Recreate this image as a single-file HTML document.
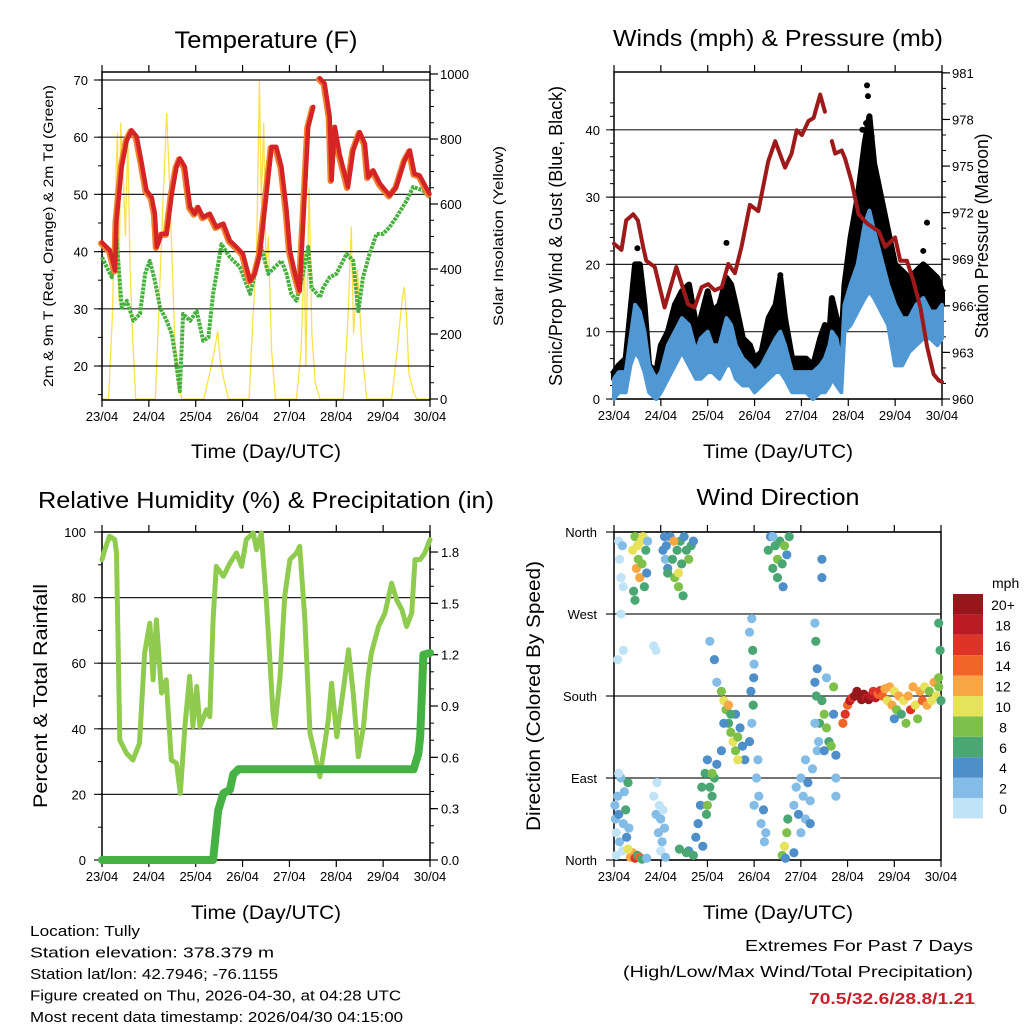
<!DOCTYPE html>
<html><head><meta charset="utf-8"><style>
html,body{margin:0;padding:0;background:#fff;}
svg{display:block;font-family:"Liberation Sans",sans-serif;}
</style></head><body>
<svg id="c" width="1024" height="1024" viewBox="0 0 1024 1024"></svg>
<script>
// ---------- DATA ----------
const dayLabels=["23/04","24/04","25/04","26/04","27/04","28/04","29/04","30/04"];
const tempTicks=[20,30,40,50,60,70];
const solarTicks=[0,200,400,600,800,1000];
const windTicks=[0,10,20,30,40];
const presTicks=[960,963,966,969,972,975,978,981];
const rhTicks=[0,20,40,60,80,100];
const rainTicks=[0.0,0.3,0.6,0.9,1.2,1.5,1.8];
const dirTicks=[0,90,180,270,360];
const dirTickLabels=["North","East","South","West","North"];
const speedBins=["0","2","4","6","8","10","12","14","16","18","20+"];

const tempDays=[0,0.17,0.28,0.31,0.42,0.53,0.63,0.74,0.85,0.95,1.06,1.13,1.17,1.27,1.38,1.49,1.59,1.66,1.77,1.88,1.98,2.05,2.16,2.30,2.44,2.59,2.73,2.87,3.01,3.16,3.26,3.37,3.51,3.62,3.72,3.83,3.94,4.01,4.12,4.22,4.29,4.40,4.51,4.58,4.65,4.75,4.86,4.90,4.97,5.07,5.25,5.36,5.50,5.61,5.68,5.79,5.93,6.14,6.28,6.46,6.57,6.67,6.78,6.99];
const tempRed=[41.6,40.2,36.7,45.4,54.8,59.5,61.2,60.1,55.4,50.7,49.5,46.6,40.8,43.1,43.1,50.1,54.8,56.3,54.8,47.8,46.6,47.8,46.0,46.6,44.3,44.9,41.9,40.8,39.6,34.9,36.1,39.6,50.1,58.3,58.3,54.8,47.2,40.2,36.1,33.2,44.3,61.8,65.3,null,70.3,69.4,63.6,52.5,61.8,57.1,51.3,57.7,60.9,58.9,53.0,54.2,51.9,49.8,51.3,56.0,57.7,53.6,53.3,50.1];
const dewDays=[0,0.10,0.21,0.31,0.42,0.53,0.67,0.81,0.92,1.02,1.13,1.24,1.38,1.49,1.56,1.66,1.73,1.88,2.02,2.16,2.27,2.37,2.55,2.73,2.94,3.16,3.30,3.40,3.55,3.69,3.83,3.94,4.04,4.15,4.29,4.40,4.47,4.65,4.72,4.86,5.00,5.22,5.36,5.47,5.57,5.71,5.86,6.00,6.14,6.28,6.50,6.64,6.85,6.99];
const dewGreen=[39.0,37.3,35.5,42.5,30.2,31.4,27.9,29.1,36.1,38.4,34.9,30.2,27.9,25.6,22.0,15.6,29.1,27.9,29.6,24.4,25.0,32.6,41.3,39.0,37.3,32.6,37.3,40.8,36.1,37.3,38.4,36.1,32.6,31.4,36.1,40.8,33.7,32.0,33.7,35.5,36.1,39.6,38.4,29.6,35.5,39.6,43.1,43.1,44.3,46.0,48.9,51.3,50.7,49.5];
const solarDays=[0,0.14,0.22,0.28,0.33,0.36,0.40,0.45,0.50,0.55,0.60,0.65,0.72,1.14,1.22,1.30,1.38,1.43,1.48,1.55,1.62,1.70,2.17,2.30,2.40,2.47,2.52,2.60,2.70,3.14,3.22,3.30,3.36,3.40,3.45,3.50,3.55,3.62,3.70,4.15,4.25,4.32,4.35,4.42,4.48,4.55,4.65,5.15,5.25,5.32,5.37,5.45,5.55,5.65,6.18,6.30,6.40,6.45,6.50,6.55,6.65,6.72,7];
const solarW=[0,0,250,600,820,300,850,700,500,800,400,200,0,0,300,600,880,700,500,200,60,0,0,80,150,210,120,60,0,0,250,450,980,600,850,400,500,150,0,0,150,450,100,650,200,50,0,0,250,530,200,400,150,0,0,150,300,345,250,80,20,0,0];

const presDays=[0,0.16,0.26,0.41,0.51,0.62,0.69,0.87,1.08,1.33,1.58,1.72,1.87,2.01,2.15,2.30,2.44,2.58,2.72,2.90,3.08,3.29,3.44,3.65,3.79,3.90,4.01,4.15,4.26,4.40,4.50,4.58,4.65,4.72,4.86,4.93,5.07,5.22,5.40,5.65,5.79,6.00,6.11,6.25,6.39,6.54,6.68,6.82,6.93,7.0];
const presMb=[970.0,969.6,971.5,971.9,971.5,969.8,968.9,968.5,965.9,968.5,966.1,965.9,967.2,967.4,967.0,967.2,968.7,968.1,969.8,972.5,972.1,975.3,976.6,974.9,975.8,977.3,977.0,977.9,978.1,979.6,978.5,null,976.6,975.8,976.0,975.5,974.0,971.9,971.3,970.8,969.8,970.4,968.9,968.9,967.6,965.9,963.4,961.6,961.2,961.1];
const windDays=[0,0.1,0.25,0.35,0.45,0.55,0.65,0.75,0.9,1.0,1.15,1.3,1.45,1.6,1.75,1.85,2.0,2.1,2.25,2.4,2.5,2.6,2.75,2.9,3.0,3.15,3.3,3.45,3.55,3.65,3.8,3.95,4.1,4.25,4.4,4.5,4.6,4.65,4.75,4.85,4.92,5.05,5.2,5.35,5.45,5.55,5.7,5.85,6.0,6.15,6.3,6.45,6.6,6.75,6.9,7.0];
const windLow=[0,1,1,5,7,6,4,1,0,1,3,5,7,5,3,3,4,4,3,5,5,3,2,2,1,2,3,4,4,3,1,1,1,0,1,1,2,3,2,1,10,11,13,15,16,15,13,11,5,5,7,8,9,9,8,9];
const windHigh=[3,4,4,9,14,13,10,5,3,4,8,10,12,11,7,9,10,8,8,12,11,8,6,5,4,5,7,9,10,8,4,4,4,4,5,6,8,10,9,5,14,17,20,26,28,25,21,17,14,12,12,14,15,13,13,14];
const gustHigh=[4,5,6,13,20,20,14,5,4,8,10,14,16,17,11,12,16,13,14,18,17,14,9,8,6,7,12,14,18,12,6,6,6,5,9,11,10,15,12,8,17,24,30,38,42,35,30,25,20,19,18,19,20,19,18,16];
const gustDotDays=[5.4,5.42,5.38,6.68,6.6,2.4,0.5,3.55,5.3,5.5];
const gustDotVals=[46.6,45.0,41.0,26.2,22.0,23.2,22.4,18.4,40.0,39.0];

const rhDays=[0,0.06,0.16,0.27,0.31,0.38,0.52,0.66,0.80,0.91,1.02,1.09,1.16,1.27,1.37,1.48,1.59,1.67,1.77,1.87,1.94,2.02,2.09,2.23,2.30,2.37,2.44,2.59,2.73,2.87,2.98,3.08,3.23,3.30,3.40,3.51,3.65,3.69,3.80,3.90,4.01,4.15,4.22,4.33,4.44,4.54,4.65,4.83,4.90,5.01,5.15,5.26,5.36,5.47,5.58,5.68,5.75,5.90,6.04,6.18,6.29,6.40,6.50,6.61,6.68,6.79,6.89,7.0];
const rhVals=[91.6,94.6,98.7,97.7,93.6,36.6,32.6,30.5,35.6,63.1,72.2,54.9,73.2,50.9,54.9,30.5,29.5,20.3,40.7,56.0,40.7,52.9,40.7,45.8,43.7,73.2,89.5,86.5,90.5,93.6,89.5,97.7,99.7,94.6,99.7,78.3,44.8,40.7,56.0,80.4,91.6,93.6,95.6,73.2,38.7,32.6,25.4,42.7,53.9,37.6,51.9,64.1,50.9,31.5,40.7,56.0,63.1,71.2,75.3,84.4,79.3,76.3,71.2,75.3,91.6,91.6,93.6,97.7];
const rainDays=[0,2.37,2.48,2.59,2.73,2.80,2.91,6.65,6.75,6.79,6.86,7.0];
const rainVals=[0,0,0.29,0.39,0.41,0.50,0.53,0.53,0.62,0.72,1.20,1.21];

const dirDay=[0.02,0.03,0.05,0.08,0.1,0.12,0.15,0.18,0.2,0.22,0.25,0.27,0.3,0.32,0.05,0.1,
0.4,0.45,0.48,0.5,0.52,0.55,0.58,0.6,0.62,0.65,0.68,0.7,0.72,0.42,0.45,
0.1,0.12,0.15,0.18,0.2,0.15,0.2,0.08,0.85,0.9,
0.35,0.4,0.45,0.5,0.55,0.6,0.7,0.3,
0.85,0.9,0.95,0.97,1.0,1.03,0.92,1.05,1.08,1.0,1.1,
1.05,1.08,1.1,1.12,1.15,1.2,1.25,1.3,1.35,1.38,1.42,1.45,1.5,1.55,1.6,1.65,1.7,1.48,1.38,1.28,1.15,
1.6,1.7,1.75,1.8,1.85,1.9,1.88,1.95,2.0,2.05,2.1,2.15,2.2,1.98,2.0,1.55,1.4,2.1,
2.3,2.35,2.4,2.45,2.5,2.55,2.6,2.65,2.7,2.75,2.8,2.6,2.5,2.35,2.9,2.95,2.3,2.65,2.45,
2.95,2.97,2.99,3.0,2.93,2.98,2.9,2.2,2.15,2.05,
3.05,3.1,3.15,3.2,3.22,3.25,3.08,3.0,
3.3,3.35,3.4,3.45,3.5,3.55,3.6,3.65,3.7,3.75,3.5,3.62,3.4,
3.6,3.65,3.7,3.72,3.67,3.85,
3.85,3.9,3.95,4.0,4.05,4.1,4.15,4.2,4.25,4.0,4.1,4.2,
4.3,4.32,4.35,4.3,4.33,4.4,4.38,4.3,4.35,4.45,4.45,
4.45,4.5,4.55,4.6,4.65,4.7,4.75,4.75,4.75,4.7,4.55,4.5,
4.95,5.0,5.05,5.1,5.15,5.2,5.25,5.3,5.35,5.4,5.45,5.5,5.55,5.6,5.65,5.7,5.75,4.9,
5.8,5.85,5.9,5.95,6.0,6.05,6.1,6.15,6.2,6.25,6.3,6.35,6.4,6.45,6.5,6.55,6.6,6.65,6.7,6.75,6.8,6.85,6.9,6.95,7.0,6.0,6.95,6.98,6.95];
const dirDeg=[60,45,30,70,50,20,90,10,40,75,55,25,85,35,5,95,
340,355,320,345,330,310,350,325,355,300,340,315,350,295,285,
350,330,310,345,300,270,230,220,235,230,
3,8,2,5,3,1,2,12,
70,50,30,60,45,20,85,55,35,10,3,
340,355,330,345,320,355,330,310,340,300,350,325,355,340,330,345,350,290,315,350,315,
10,5,25,40,60,15,80,95,110,80,70,90,105,50,60,8,12,95,
185,175,165,150,140,130,120,135,145,125,110,160,160,150,130,150,120,110,170,
265,230,200,215,185,170,250,195,220,240,
90,70,40,55,20,30,110,60,
340,355,320,345,330,350,325,345,335,355,310,300,355,
5,15,30,45,2,8,
60,80,50,90,70,45,85,65,100,30,110,40,
260,240,210,195,180,150,130,150,120,330,310,
175,160,145,130,125,160,115,90,70,190,200,120,
160,170,175,178,180,185,180,176,182,178,176,180,185,178,182,186,180,150,
188,175,190,170,185,165,180,160,175,150,180,165,190,170,155,185,175,190,170,185,175,195,180,190,175,155,260,230,200];
const dirSpd=[2,3,1,2,4,2,3,1,2,3,6,4,6,2,1,1,
10,9,12,10,9,12,10,8,11,6,7,4,3,7,6,
1,1,0,2,0,0,0,1,0,1,
13,12,16,6,14,7,2,10,
1,2,2,1,2,2,1,1,2,1,2,
4,4,3,4,5,4,7,8,6,8,6,7,4,6,8,7,4,7,10,12,6,
4,6,4,4,4,4,6,6,4,6,6,6,4,6,8,6,6,8,
9,10,8,7,8,10,9,8,4,4,4,4,6,4,4,3,4,10,12,
2,6,4,3,4,6,2,2,4,2,
2,2,2,4,2,3,3,2,
6,5,6,7,8,6,6,9,4,6,6,4,2,
8,10,8,6,4,4,
2,2,4,2,3,2,4,2,2,2,3,4,
2,6,4,4,6,6,2,2,2,4,4,
6,8,8,6,8,4,4,2,2,8,2,4,
16,14,18,16,20,20,20,20,20,18,20,18,16,18,14,16,14,14,
12,10,12,12,10,8,12,6,10,8,12,16,12,10,8,12,14,10,12,8,10,12,10,8,6,4,6,6,8];
const speedColors=["#c0e3f7","#83bce6","#4e8ec9","#4aa673","#7dc04a","#e6e25a","#f9a745","#f26529","#de3428","#bb1b24","#96161b"];

// ---------- DRAW ----------
const NS="http://www.w3.org/2000/svg";
const svg=document.getElementById('c');
function mk(tag,attrs,parent){const e=document.createElementNS(NS,tag);for(const k in attrs)e.setAttribute(k,attrs[k]);(parent||svg).appendChild(e);return e;}
function txt(s,x,y,size,anchor,parent,extra){const t=mk('text',Object.assign({x:x,y:y,'font-size':size,'text-anchor':anchor||'start',fill:'#000'},extra||{}),parent);t.textContent=s;return t;}

function panel(name,L,R,T,B){
  const g=mk('g',{});
  
  
  return {g:g,L:L,R:R,T:T,B:B,x:d=>L+d*(R-L)/7};
}
function linePath(p,days,vals,yf){let d='',pen=false;for(let i=0;i<days.length;i++){if(vals[i]===null){pen=false;continue;}const X=p.x(days[i]).toFixed(1),Y=yf(vals[i]).toFixed(1);d+=(pen?'L':'M')+X+' '+Y;pen=true;}return d;}
function frame(p,yf,ticks,labels,rf,rticks,rlabels,lx,rx,minorL,minorR){
  const g=p.g;
  ticks.forEach((v,i)=>{const y=yf(v);
    const gl=mk('line',{x1:p.L-8,x2:p.R,y1:y,y2:y,stroke:'#222','stroke-width':1.2},g);
    
    const t=txt(labels[i],lx,y+5,13,'end',g);
    });
  minorL.forEach(v=>{const y=yf(v);mk('line',{x1:p.L-4,x2:p.L,y1:y,y2:y,stroke:'#000','stroke-width':1},g);});
  rticks.forEach((v,i)=>{const y=rf(v);mk('line',{x1:p.R,x2:p.R+8,y1:y,y2:y,stroke:'#000','stroke-width':1.2},g);
    const t=txt(rlabels[i],rx,y+5,13,'start',g);
    });
  minorR.forEach(v=>{const y=rf(v);mk('line',{x1:p.R,x2:p.R+4,y1:y,y2:y,stroke:'#000','stroke-width':1},g);});
  dayLabels.forEach((s,i)=>{const X=p.x(i);
    mk('line',{x1:X,x2:X,y1:p.B,y2:p.B+7,stroke:'#000','stroke-width':1.2},g);
    mk('line',{x1:X,x2:X,y1:p.T,y2:p.T-7,stroke:'#000','stroke-width':1.2},g);
    const t=txt(s,X,p.B+21,13,'middle',g);
    });
  const r=mk('rect',{x:p.L,y:p.T,width:p.R-p.L,height:p.B-p.T,fill:'none',stroke:'#000','stroke-width':1.5},g);
  
}
function rng(a,b,s){const o=[];for(let v=a;v<=b+1e-9;v+=s)o.push(+v.toFixed(3));return o;}
function title(s,x,y,size,len){const t=txt(s,x,y,size,'middle',svg,len?{textLength:len,lengthAdjust:'spacingAndGlyphs'}:{});return t;}
function vtitle(s,x,y,size,len){const t=txt(s,0,0,size,'middle',svg,{transform:`translate(${x},${y}) rotate(-90)`,textLength:len,lengthAdjust:'spacingAndGlyphs'});return t;}

// Panel 1: temperature
const p1=panel('temperature-chart',102,430,72,400);
const yT=v=>80+(70-v)*5.72, yS=v=>399-v*0.325;
const solar=mk('path',{d:linePath(p1,solarDays,solarW,yS),fill:'none',stroke:'#fbe04a','stroke-width':1.3},p1.g);

frame(p1,yT,tempTicks,tempTicks.map(String),yS,solarTicks,solarTicks.map(String),88,440,rng(15,70,5),rng(0,1000,50));
const dew=mk('path',{d:linePath(p1,dewDays,dewGreen,yT),fill:'none',stroke:'#46b03c','stroke-width':4,'stroke-dasharray':'3 1','stroke-linejoin':'round'},p1.g);

const org=mk('path',{d:linePath(p1,tempDays,tempRed,yT),fill:'none',stroke:'#f0802e','stroke-width':6,'stroke-linejoin':'round','stroke-linecap':'round',transform:'translate(-1,1)'},p1.g);

const red=mk('path',{d:linePath(p1,tempDays,tempRed,yT),fill:'none',stroke:'#d42426','stroke-width':4.5,'stroke-linejoin':'round','stroke-linecap':'round'},p1.g);

const t1=title('Temperature (F)',266,48,24,183);
const a1=vtitle('2m & 9m T (Red, Orange) & 2m Td (Green)',53,236,14,302);
const a1r=vtitle('Solar Insolation (Yellow)',503,236,14,180);
const x1=title('Time (Day/UTC)',266,458,19,150);

// Panel 2: winds & pressure
const p2=panel('winds-pressure-chart',614,942,72,399);
const yW=v=>399-v*6.73, yP=v=>399-(v-960)*15.53;
frame(p2,yW,windTicks,windTicks.map(String),yP,presTicks,presTicks.map(String),600,952,rng(0,45,2),rng(960,981,1));
let gd='M'+p2.x(windDays[0])+' '+yW(windHigh[0]);
windDays.forEach((d,i)=>gd+='L'+p2.x(d).toFixed(1)+' '+yW(gustHigh[i]).toFixed(1));
for(let i=windDays.length-1;i>=0;i--)gd+='L'+p2.x(windDays[i]).toFixed(1)+' '+yW(windHigh[i]).toFixed(1);
const gust=mk('path',{d:gd+'Z',fill:'#000',stroke:'#000','stroke-width':6,'stroke-linejoin':'round'},p2.g);

gustDotDays.forEach((d,i)=>{const c=mk('circle',{cx:p2.x(d),cy:yW(gustDotVals[i]),r:3,fill:'#000'},p2.g);

});
let wd='';windDays.forEach((d,i)=>wd+=(i?'L':'M')+p2.x(d).toFixed(1)+' '+yW(windHigh[i]).toFixed(1));
for(let i=windDays.length-1;i>=0;i--)wd+='L'+p2.x(windDays[i]).toFixed(1)+' '+yW(windLow[i]).toFixed(1);
const wind=mk('path',{d:wd+'Z',fill:'#4f98d3',stroke:'#4f98d3','stroke-width':4,'stroke-linejoin':'round'},p2.g);

const pres=mk('path',{d:linePath(p2,presDays,presMb,yP),fill:'none',stroke:'#9e1a1a','stroke-width':4,'stroke-linejoin':'round','stroke-linecap':'round'},p2.g);

const t2=title('Winds (mph) & Pressure (mb)',778,46,23,330);
const a2=vtitle('Sonic/Prop Wind & Gust (Blue, Black)',562,236,18,300);
const a2r=vtitle('Station Pressure (Maroon)',988,236,18,205);
const x2=title('Time (Day/UTC)',778,458,19,150);

// Panel 3: RH & precip
const p3=panel('humidity-precip-chart',102,430,532,860);
const yR=v=>860-v*3.28, yPr=v=>860-v*171.1;
frame(p3,yR,rhTicks,rhTicks.map(String),yPr,rainTicks,rainTicks.map(v=>v.toFixed(1)),86,441,rng(0,100,10),rng(0,1.8,0.1));
const rh=mk('path',{d:linePath(p3,rhDays,rhVals,yR),fill:'none',stroke:'#8fcb4f','stroke-width':5,'stroke-linejoin':'round','stroke-linecap':'round'},p3.g);

const rain=mk('path',{d:linePath(p3,rainDays,rainVals,yPr),fill:'none',stroke:'#46b244','stroke-width':8,'stroke-linejoin':'round','stroke-linecap':'round'},p3.g);

const t3=title('Relative Humidity (%) & Precipitation (in)',266,508,23,456);
const a3=vtitle('Percent & Total Rainfall',47,696,19,224);
const x3=title('Time (Day/UTC)',266,919,19,150);

// Panel 4: wind direction
const p4=panel('wind-direction-chart',614,941,532,860);
const yD=v=>860-v*328/360;
frame(p4,yD,dirTicks,dirTickLabels,yD,[],[],597,0,[],[]);
dirDay.forEach((d,i)=>{const bin=Math.min(10,Math.floor(dirSpd[i]/2));
  const c=mk('circle',{cx:p4.x(d).toFixed(1),cy:yD(dirDeg[i]).toFixed(1),r:4.6,fill:speedColors[bin]},p4.g);
  
  });
const t4=title('Wind Direction',778,505,23,163);
const a4=vtitle('Direction (Colored By Speed)',540,696,19,270);
const x4=title('Time (Day/UTC)',778,919,19,150);

// colorbar
const cb=mk('g',{});
const mph=txt('mph',992,588,14,'start',cb);
speedBins.forEach((s,i)=>{const k=speedBins.length-1-i;const y=594+k*20.4;
  const r=mk('rect',{x:953,y:y,width:30,height:20.4,fill:speedColors[i]},cb);
  
  const t=txt(s,1003,y+16,14,'middle',cb);});

// footer
const foot=["Location: Tully","Station elevation: 378.379 m","Station lat/lon: 42.7946; -76.1155","Figure created on Thu, 2026-04-30, at 04:28 UTC","Most recent data timestamp: 2026/04/30 04:15:00"];
const footLen=[110,244,248,371,373];
foot.forEach((s,i)=>{const t=txt(s,30,936+i*21.5,15,'start',svg,{textLength:footLen[i],lengthAdjust:'spacingAndGlyphs'});
  });
const e1=txt('Extremes For Past 7 Days',973,951,16,'end',svg,{textLength:228,lengthAdjust:'spacingAndGlyphs'});
const e2=txt('(High/Low/Max Wind/Total Precipitation)',973,977,16,'end',svg,{textLength:350,lengthAdjust:'spacingAndGlyphs'});
const e3=txt('70.5/32.6/28.8/1.21',975,1004,16,'end',svg,{fill:'#c8202a','font-weight':'bold',textLength:166,lengthAdjust:'spacingAndGlyphs'});
</script>
</body></html>
